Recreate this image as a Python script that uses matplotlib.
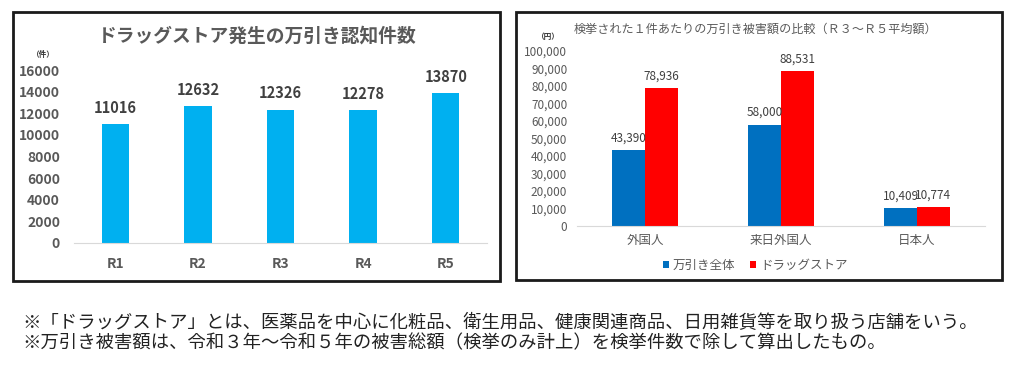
import matplotlib
matplotlib.use("Agg")
import matplotlib.pyplot as plt
from matplotlib.patches import Rectangle
import numpy as np

plt.rcParams['font.family'] = ['Noto Sans CJK JP', 'DejaVu Sans']

# ---- data ----
years = ["R1", "R2", "R3", "R4", "R5"]
counts = [11016, 12632, 12326, 12278, 13870]
left_yticks = [0, 2000, 4000, 6000, 8000, 10000, 12000, 14000, 16000]

groups = ["外国人", "来日外国人", "日本人"]
series_names = ["万引き全体", "ドラッグストア"]
all_shoplifting = [43390, 58000, 10409]
drugstore = [78936, 88531, 10774]
right_yticks = list(range(0, 100001, 10000))

left_title = "ドラッグストア発生の万引き認知件数"
right_title = "検挙された１件あたりの万引き被害額の比較（Ｒ３～Ｒ５平均額）"
notes = [
    "※「ドラッグストア」とは、医薬品を中心に化粧品、衛生用品、健康関連商品、日用雑貨等を取り扱う店舗をいう。",
    "※万引き被害額は、令和３年～令和５年の被害総額（検挙のみ計上）を検挙件数で除して算出したもの。",
]

W, H = 1024, 375
fig = plt.figure(figsize=(W / 100, H / 100), dpi=100)
fig.patch.set_facecolor("white")

def fx(px):
    return px / W

def fy(py):
    return 1 - py / H

# panel frames
for (x0, y0, x1, y1) in [(13, 12, 500, 281), (516, 12, 1002, 280)]:
    fig.patches.append(Rectangle((fx(x0), fy(y1)), fx(x1 - x0), (y1 - y0) / H,
                                 transform=fig.transFigure, fill=False,
                                 edgecolor="#1a1a1a", linewidth=2, zorder=10))

gray = "#595959"

# ---- left chart ----
axL = fig.add_axes([fx(74), fy(243), fx(487 - 74), (243 - 70) / H])
xL = np.arange(len(years))
axL.bar(xL, counts, width=0.33, color="#00B0F0")
axL.set_xlim(-0.5, len(years) - 0.5)
axL.set_ylim(0, 16000)
axL.set_yticks(left_yticks)
axL.set_yticklabels([str(v) for v in left_yticks])
axL.set_xticks(xL)
axL.set_xticklabels(years)
for s in ["top", "right", "left"]:
    axL.spines[s].set_visible(False)
axL.spines["bottom"].set_color("#d9d9d9")
axL.tick_params(axis="both", length=0, colors=gray, labelsize=10)
axL.tick_params(axis="y", pad=10)
axL.tick_params(axis="x", pad=10)
for lab in axL.get_yticklabels() + axL.get_xticklabels():
    lab.set_fontweight("bold")
for xi, v in zip(xL, counts):
    axL.annotate(str(v), (xi, v), xytext=(0, 6), textcoords="offset points",
                 ha="center", va="bottom", fontsize=10.5, fontweight="bold",
                 color="#404040")
fig.text(fx(257), fy(36), left_title, ha="center", va="center",
         fontsize=13.5, fontweight="bold", color=gray)
fig.text(fx(43), fy(54), "（件）", ha="center", va="center", fontsize=5.5,
         fontweight="bold", color="#333333")

# ---- right chart ----
axR = fig.add_axes([fx(577), fy(226), fx(985 - 577), (226 - 51) / H])
xR = np.arange(len(groups))
bw = 0.24
axR.bar(xR - bw / 2, all_shoplifting, width=bw, color="#0070C0", label=series_names[0])
axR.bar(xR + bw / 2, drugstore, width=bw, color="#FF0000", label=series_names[1])
axR.set_xlim(-0.5, len(groups) - 0.5)
axR.set_ylim(0, 100000)
axR.set_yticks(right_yticks)
axR.set_yticklabels([f"{v:,}" for v in right_yticks])
axR.set_xticks(xR)
axR.set_xticklabels(groups)
for s in ["top", "right", "left"]:
    axR.spines[s].set_visible(False)
axR.spines["bottom"].set_color("#d9d9d9")
axR.tick_params(axis="both", length=0, colors=gray, labelsize=8.5)
axR.tick_params(axis="y", pad=7)
axR.tick_params(axis="x", pad=6, labelsize=9)
for xi, v in zip(xR, all_shoplifting):
    axR.annotate(f"{v:,}", (xi - bw / 2, v), xytext=(0, 4), textcoords="offset points",
                 ha="center", va="bottom", fontsize=8.5, color="#404040")
for xi, v in zip(xR, drugstore):
    axR.annotate(f"{v:,}", (xi + bw / 2, v), xytext=(0, 4), textcoords="offset points",
                 ha="center", va="bottom", fontsize=8.5, color="#404040")
fig.text(fx(756), fy(29), right_title, ha="center", va="center",
         fontsize=8.7, color=gray)
fig.text(fx(548), fy(37), "（円）", ha="center", va="center", fontsize=5.5,
         fontweight="bold", color="#333333")
fig.legend(loc="center", bbox_to_anchor=(fx(755), fy(265)), ncol=2, frameon=False,
           fontsize=9, labelcolor=gray, handlelength=0.5, handleheight=0.5,
           handletextpad=0.3, columnspacing=1.2)

# ---- notes ----
fig.text(fx(22), fy(323), notes[0], ha="left", va="center", fontsize=13.2, color="#222222")
fig.text(fx(22), fy(343), notes[1], ha="left", va="center", fontsize=13.2, color="#222222")

fig.savefig("out.png", dpi=100, facecolor="white")
